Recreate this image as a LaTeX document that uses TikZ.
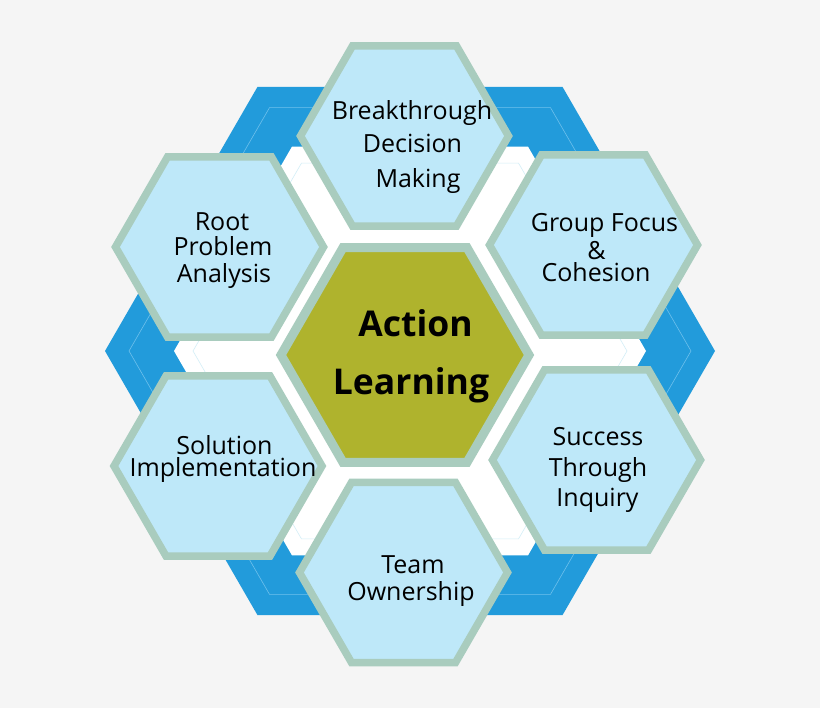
\documentclass[tikz,border=0pt]{standalone}
\usepackage{fontspec}
\setmainfont{Open Sans}
\usetikzlibrary{shapes.geometric}
\definecolor{bgc}{HTML}{F5F5F5}
\definecolor{bigblue}{HTML}{229BDB}
\definecolor{bluethin}{HTML}{6EC0EC}
\definecolor{whitethin}{HTML}{D3EEF7}
\definecolor{hexfill}{HTML}{BEE8F9}
\definecolor{hexborder}{HTML}{A9CCBE}
\definecolor{olive}{HTML}{AFB32D}
\tikzset{
  hexa/.style={regular polygon, regular polygon sides=6, inner sep=0pt, outer sep=0pt},
  smallhex/.style={hexa, minimum size=208pt, fill=hexfill, draw=hexborder, line width=7.5pt},
  centrehex/.style={hexa, minimum size=248pt, fill=olive, draw=hexborder, line width=9pt},
  lbl/.style={anchor=base, inner sep=0pt, font=\fontsize{25}{29}\selectfont},
  biglbl/.style={anchor=base, inner sep=0pt, font=\fontsize{35.5}{42}\selectfont\bfseries},
}
\begin{document}
\begin{tikzpicture}[x=1pt,y=-1pt]
\fill[bgc] (0,0) rectangle (820,708);
\useasboundingbox (0,0) rectangle (820,708);
% background hexagons
\node[hexa, minimum size=610pt, fill=bigblue] (bhex) at (410,351) {};
\node[hexa, minimum size=562pt, draw=bluethin, line width=0.6pt] (bline) at (410,351) {};
\node[hexa, minimum size=472pt, fill=white] (whex) at (410,351) {};
\node[hexa, minimum size=434pt, draw=whitethin, line width=0.6pt] (wline) at (410,351) {};
% small hexagons
\node[smallhex] (h1) at (404.5,136) {};
\node[smallhex] (h2) at (219.5,247) {};
\node[smallhex] (h3) at (593.5,245) {};
\node[smallhex] (h4) at (596.5,460) {};
\node[smallhex] (h5) at (218,466) {};
\node[smallhex] (h6) at (403.5,572.5) {};
\node[centrehex] (hc) at (405,355) {};
% labels
\node[lbl] (t1a) at (412,120) {Breakthrough};
\node[lbl] (t1b) at (412.5,153) {Decision};
\node[lbl] (t1c) at (418,188) {Making};
\node[lbl] (t2a) at (222,230.5) {Root};
\node[lbl] (t2b) at (223,255.5) {Problem};
\node[lbl] (t2c) at (224,282.5) {Analysis};
\node[lbl] (t3a) at (604.5,231.5) {Group Focus};
\node[lbl] (t3b) at (596.5,260) {\&};
\node[lbl] (t3c) at (596,282) {Cohesion};
\node[lbl] (t4a) at (598,446) {Success};
\node[lbl] (t4b) at (598,476.5) {Through};
\node[lbl] (t4c) at (597.5,507) {Inquiry};
\node[lbl] (t5a) at (224.5,455) {Solution};
\node[lbl] (t5b) at (223,477) {Implementation};
\node[lbl] (t6a) at (413,573) {Team};
\node[lbl] (t6b) at (411,600) {Ownership};
\node[biglbl] (tca) at (415.5,337) {Action};
\node[biglbl] (tcb) at (411,395) {Learning};
\end{tikzpicture}
\end{document}
